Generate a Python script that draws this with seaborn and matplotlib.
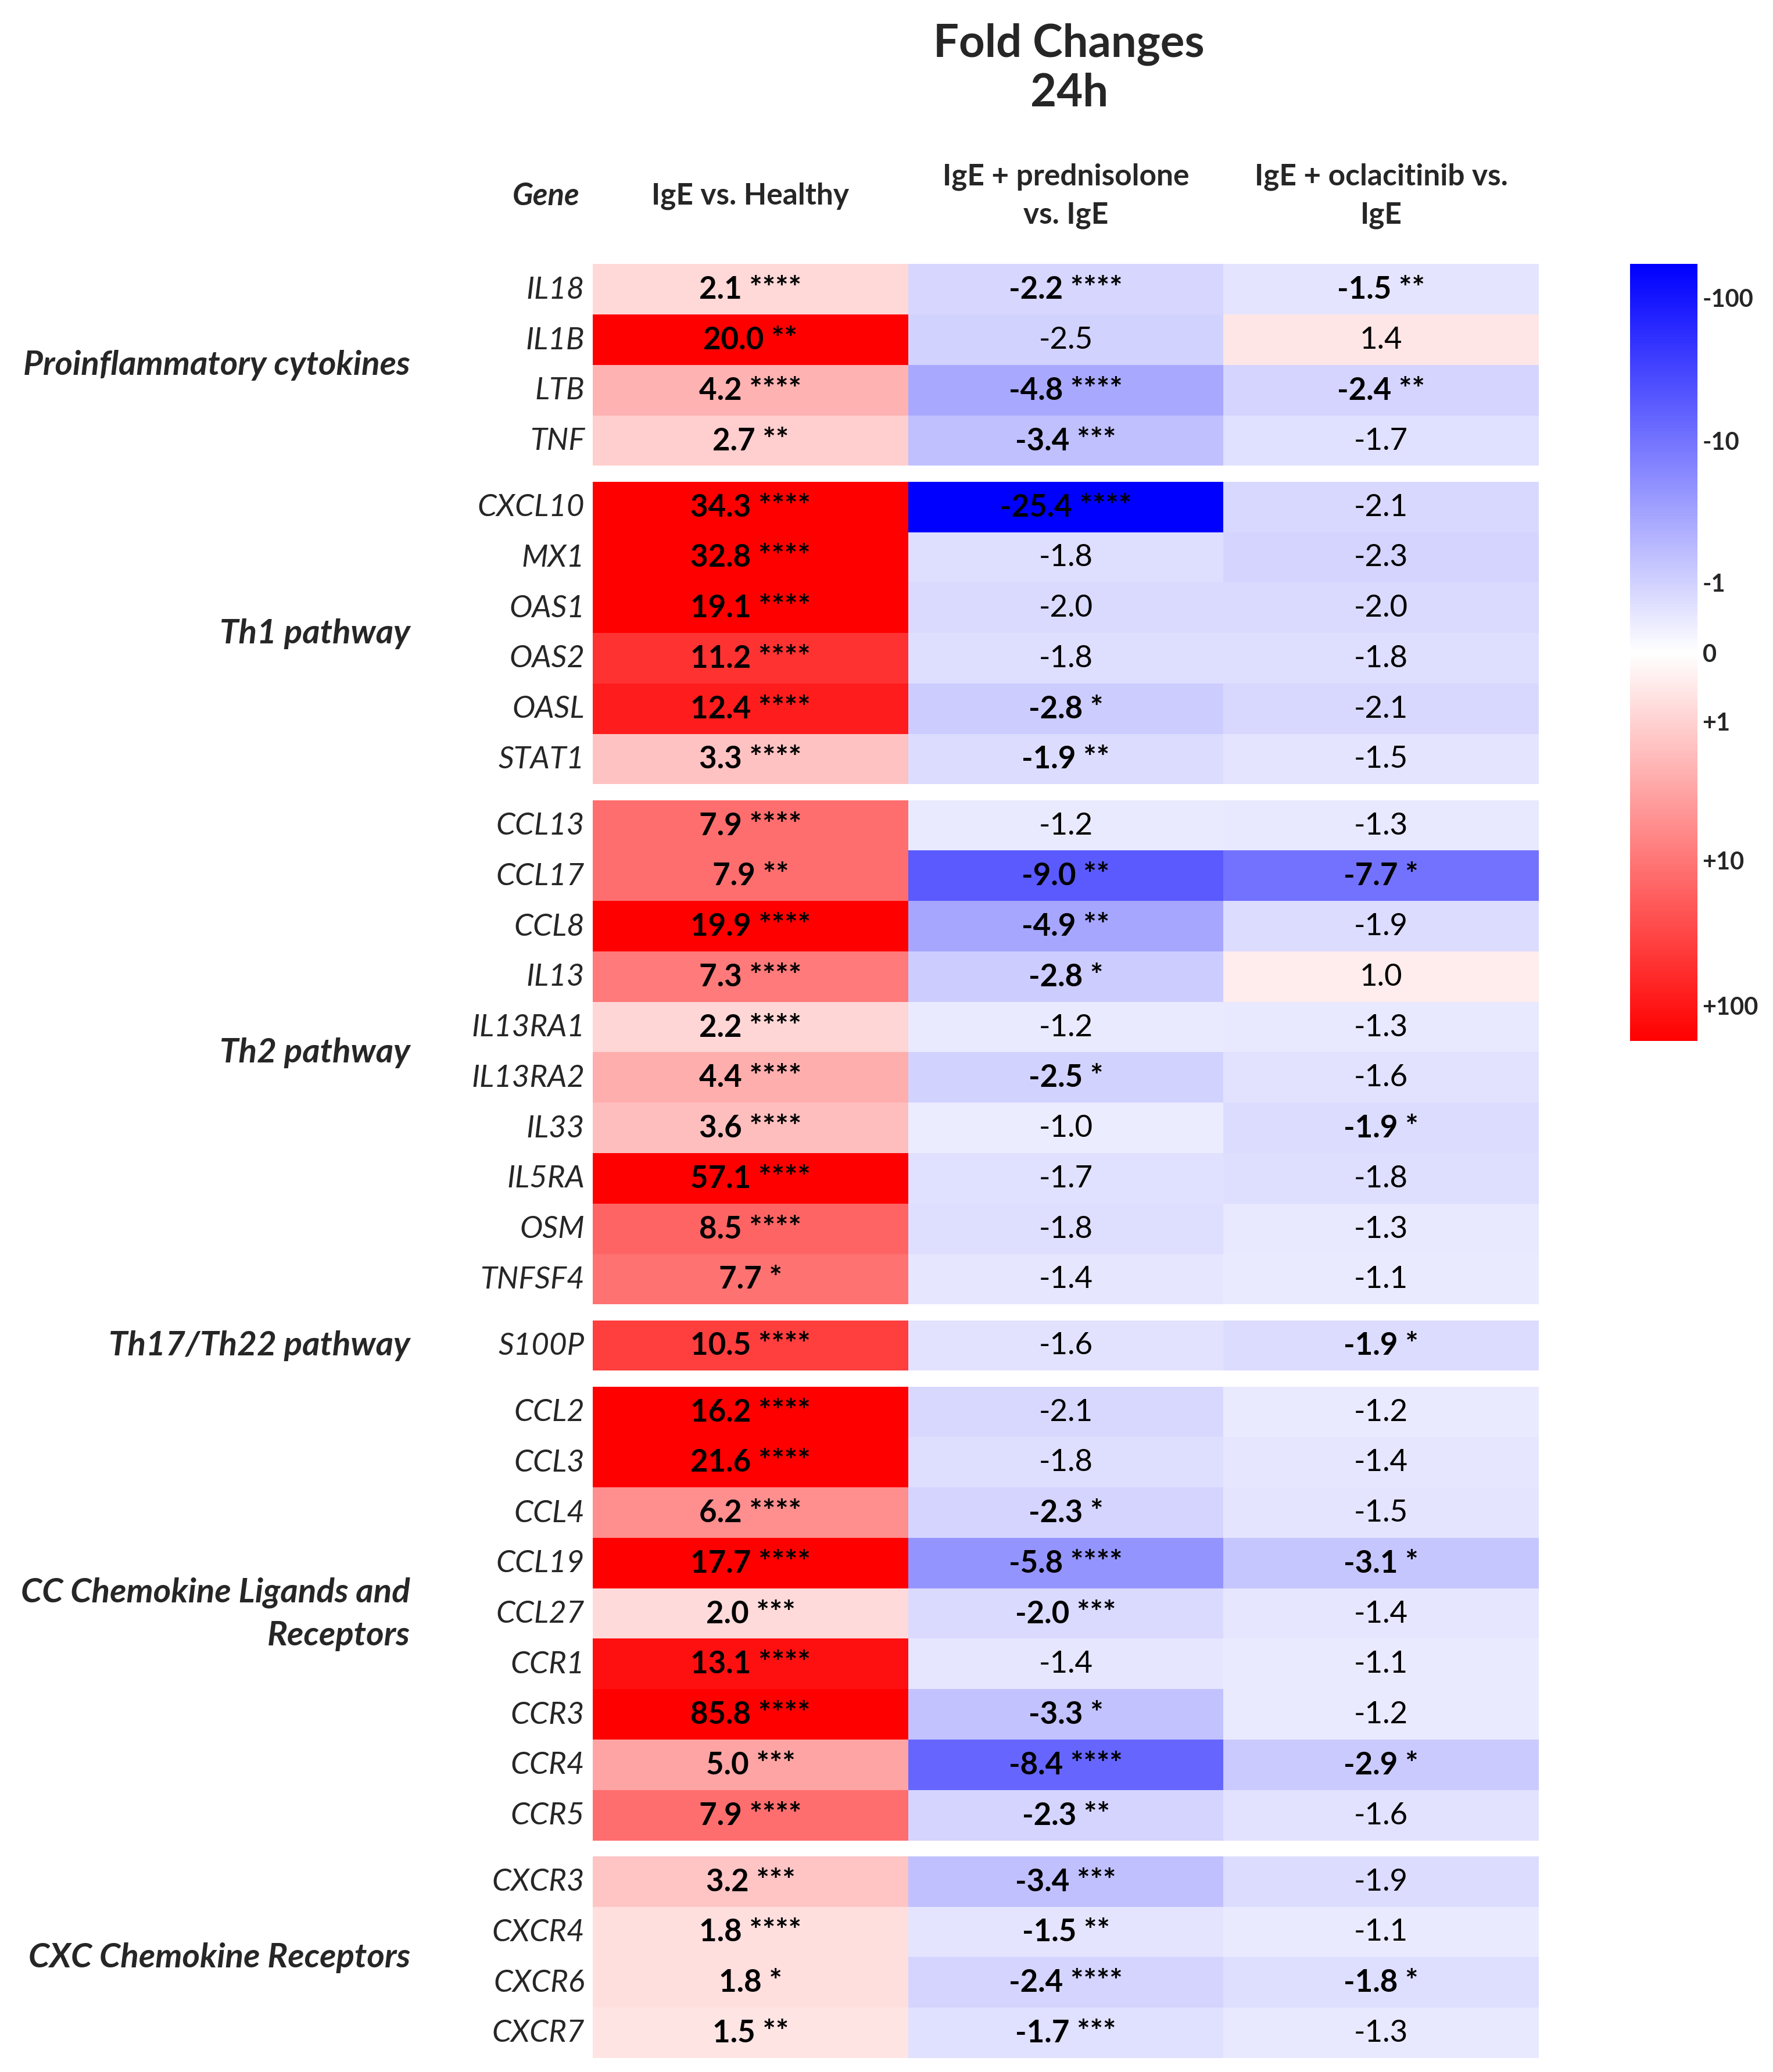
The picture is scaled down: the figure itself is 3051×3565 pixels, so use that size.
import matplotlib
matplotlib.use("Agg")
import matplotlib.pyplot as plt
import numpy as np
import pandas as pd
import seaborn as sns
from matplotlib.colors import LinearSegmentedColormap, Normalize
from matplotlib.cm import ScalarMappable

sns.set_theme(style="white")
plt.rcParams["font.family"] = ["Lato", "DejaVu Sans"]

genes = ["IL18", "IL1B", "LTB", "TNF",
         "CXCL10", "MX1", "OAS1", "OAS2", "OASL", "STAT1",
         "CCL13", "CCL17", "CCL8", "IL13", "IL13RA1", "IL13RA2", "IL33", "IL5RA", "OSM", "TNFSF4",
         "S100P",
         "CCL2", "CCL3", "CCL4", "CCL19", "CCL27", "CCR1", "CCR3", "CCR4", "CCR5",
         "CXCR3", "CXCR4", "CXCR6", "CXCR7"]
groups = ["Proinflammatory cytokines", "Th1 pathway", "Th2 pathway", "Th17/Th22 pathway",
          "CC Chemokine Ligands and\nReceptors", "CXC Chemokine Receptors"]
group_sizes = [4, 6, 10, 1, 9, 4]
columns = ["IgE vs. Healthy", "IgE + prednisolone\nvs. IgE", "IgE + oclacitinib vs.\nIgE"]

ige_healthy = [2.1, 20.0, 4.2, 2.7, 34.3, 32.8, 19.1, 11.2, 12.4, 3.3,
               7.9, 7.9, 19.9, 7.3, 2.2, 4.4, 3.6, 57.1, 8.5, 7.7,
               10.5, 16.2, 21.6, 6.2, 17.7, 2.0, 13.1, 85.8, 5.0, 7.9,
               3.2, 1.8, 1.8, 1.5]
stars_healthy = ["****", "**", "****", "**", "****", "****", "****", "****", "****", "****",
                 "****", "**", "****", "****", "****", "****", "****", "****", "****", "*",
                 "****", "****", "****", "****", "****", "***", "****", "****", "***", "****",
                 "***", "****", "*", "**"]
pred = [-2.2, -2.5, -4.8, -3.4, -25.4, -1.8, -2.0, -1.8, -2.8, -1.9,
        -1.2, -9.0, -4.9, -2.8, -1.2, -2.5, -1.0, -1.7, -1.8, -1.4,
        -1.6, -2.1, -1.8, -2.3, -5.8, -2.0, -1.4, -3.3, -8.4, -2.3,
        -3.4, -1.5, -2.4, -1.7]
stars_pred = ["****", "", "****", "***", "****", "", "", "", "*", "**",
              "", "**", "**", "*", "", "*", "", "", "", "",
              "", "", "", "*", "****", "***", "", "*", "****", "**",
              "***", "**", "****", "***"]
ocla = [-1.5, 1.4, -2.4, -1.7, -2.1, -2.3, -2.0, -1.8, -2.1, -1.5,
        -1.3, -7.7, -1.9, 1.0, -1.3, -1.6, -1.9, -1.8, -1.3, -1.1,
        -1.9, -1.2, -1.4, -1.5, -3.1, -1.4, -1.1, -1.2, -2.9, -1.6,
        -1.9, -1.1, -1.8, -1.3]
stars_ocla = ["**", "", "**", "", "", "", "", "", "", "",
              "", "*", "", "", "", "", "*", "", "", "",
              "*", "", "", "", "*", "", "", "", "*", "",
              "", "", "*", ""]

cbar_labels = ["-100", "-10", "-1", "0", "+1", "+10", "+100"]
cbar_pos = [0.043, 0.227, 0.409, 0.5, 0.588, 0.767, 0.954]  # fraction from top

df = pd.DataFrame({columns[0]: ige_healthy, columns[1]: pred, columns[2]: ocla}, index=genes)
stars = pd.DataFrame({columns[0]: stars_healthy, columns[1]: stars_pred, columns[2]: stars_ocla}, index=genes)
annot = df.apply(lambda c: c.map(lambda v: f"{v:.1f}")) + stars.apply(lambda c: c.map(lambda s: f" {s}" if s else ""))

cmap = LinearSegmentedColormap.from_list("bwr_fc", ["#0000ff", "#ffffff", "#ff0000"])

W, H = 1340.0, 1566.0
fig = plt.figure(figsize=(30.51, 35.66), dpi=100)

def fx(px):
    return px / W

def fy(py):
    return 1 - py / H

FS = 38
row_h = 38.1
gap = 12.0
x0, x1 = 448, 1163
top = 200.0
start = 0
for name, n in zip(groups, group_sizes):
    h = n * row_h
    ax = fig.add_axes([fx(x0), fy(top + h), fx(x1) - fx(x0), h / H])
    sub = df.iloc[start:start + n]
    sns.heatmap(sub, ax=ax, cmap=cmap, vmin=-14, vmax=14, cbar=False,
                annot=annot.iloc[start:start + n].values, fmt="",
                annot_kws={"fontsize": FS, "color": "black"})
    for t in ax.texts:
        t.set_fontweight("bold" if "*" in t.get_text() else "normal")
    ax.set_xticks([])
    ax.set_yticks(np.arange(n) + 0.5)
    ax.set_yticklabels(sub.index, rotation=0, fontsize=FS, fontstyle="italic")
    ax.tick_params(axis="y", length=0, pad=10)
    ax.set_xlabel("")
    ax.set_ylabel("")
    fig.text(fx(310), fy(top + h / 2), name, ha="right", va="center", fontsize=FS + 4,
             fontweight="bold", fontstyle="italic", linespacing=1.5)
    top += h + gap
    start += n

# headers
fig.text(fx(808), fy(52), "Fold Changes\n24h", ha="center", va="center",
         fontsize=56, fontweight="bold", linespacing=1.2)
fig.text(fx(438), fy(148), "Gene", ha="right", va="center", fontsize=FS,
         fontweight="bold", fontstyle="italic")
for i, c in enumerate(columns):
    cx = x0 + (i + 0.5) * (x1 - x0) / 3
    fig.text(fx(cx), fy(148), c, ha="center", va="center", fontsize=FS - 1,
             fontweight="bold", linespacing=1.5)

# colorbar
cax = fig.add_axes([fx(1232), fy(787), fx(1283) - fx(1232), (787 - 200) / H])
sm = ScalarMappable(norm=Normalize(-1, 1), cmap=cmap)
cb = fig.colorbar(sm, cax=cax)
cb.outline.set_visible(False)
cax.invert_yaxis()
cb.set_ticks([-1 + 2 * p for p in cbar_pos])
cb.set_ticklabels(cbar_labels)
cax.tick_params(length=0, labelsize=30, pad=6)
for t in cax.get_yticklabels():
    t.set_fontweight("bold")

fig.savefig("out.png", dpi=100)
